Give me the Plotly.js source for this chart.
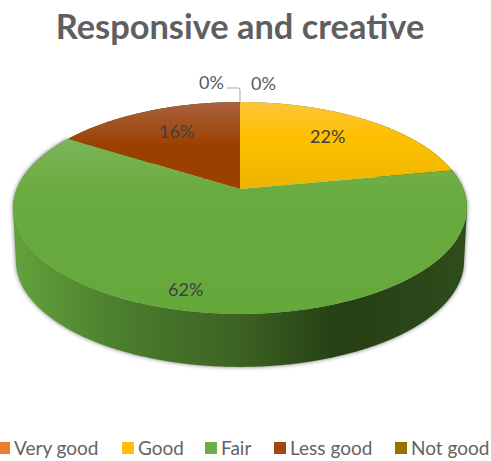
<!DOCTYPE html>
<html><head><meta charset="utf-8">
<script src="https://cdn.plot.ly/plotly-3.0.1.min.js"></script>
<style>html,body{margin:0;padding:0;background:#fff;overflow:hidden}#chart{width:491px;height:461px}</style>
</head><body><div id="chart"></div>
<script>
var categories = ['Very good', 'Good', 'Fair', 'Less good', 'Not good'];
var shares = [0, 22, 62, 16, 0];
var sliceColors = ['#ED7D31', '#FFC000', '#70AD47', '#9E480E', '#997300'];
var sliceLabels = ['22%', '16%', '62%', '0%', '0%'];
var labelX = [327, 176, 185, 211, 263];
var labelY = [136, 131, 289, 82, 83];
var labelInk = ['#404040', '#404040', '#404040', '#595959', '#595959'];
var legendX = [-2, 122, 205, 274, 395];

var W = 491, H = 461;
var data = [
  {type:'pie', values:shares, labels:categories, sort:false, direction:'clockwise', rotation:0,
   textinfo:'none', showlegend:false, hoverinfo:'skip', domain:{x:[0,1],y:[0,1]},
   marker:{colors:sliceColors, line:{width:0}}},
  {type:'pie', values:shares, labels:categories, sort:false, direction:'clockwise', rotation:0,
   textinfo:'none', showlegend:true, domain:{x:[0,1],y:[0,1]},
   marker:{colors:sliceColors, line:{width:0}}}
];
var layout = {
  width:W, height:H, margin:{l:0,r:0,t:0,b:0,autoexpand:false}, paper_bgcolor:'#fff',
  font:{family:'Lato, Carlito, sans-serif'},
  title:{text:'Responsive and creative', x:240/W, xanchor:'center', y:1-27/H, yanchor:'middle',
         font:{family:'Lato, sans-serif', size:34.4, weight:700, color:'#5F5F5F'}},
  legend:{orientation:'h', x:0, xanchor:'left', y:1-434/H, yanchor:'top', traceorder:'normal',
          font:{family:'Lato, sans-serif', size:19, color:'#636363'}, bgcolor:'rgba(0,0,0,0)', itemclick:false},
  annotations: sliceLabels.map(function(t,i){return {text:t, xref:'paper', yref:'paper', x:labelX[i]/W, y:1-labelY[i]/H,
      xanchor:'center', yanchor:'middle', showarrow:false, font:{family:'Lato, sans-serif', size:18, color:labelInk[i]}};}),
  shapes:[{type:'path', xref:'paper', yref:'paper',
      path:'M '+(227/W)+' '+(1-88/H)+' L '+(239/W)+' '+(1-88/H)+' L '+(240/W)+' '+(1-89/H)+' L '+(240/W)+' '+(1-102/H),
      line:{color:'#A6A6A6', width:1}}]
};

// Camera of the tilted disc: unit-circle point -> screen
var CX = 240, AX = 223.3, K = -0.179, BY = 68.7, CY = 189, DEPTH = 53, BASEX = 0.987;
function project(u, v, bottom) {
  var d = 1 + K * v;
  return [CX + AX * u / d * (bottom ? BASEX : 1), (CY + BY * v) / d + (bottom ? DEPTH : 0)];
}
function grad(svg, id, stops, horiz) {
  var ns = 'http://www.w3.org/2000/svg', g = document.createElementNS(ns, 'linearGradient');
  g.setAttribute('id', id); g.setAttribute('x1', '0'); g.setAttribute('y1', '0');
  g.setAttribute('x2', horiz ? '1' : '0'); g.setAttribute('y2', horiz ? '0' : '1');
  stops.forEach(function(s){var e = document.createElementNS(ns, 'stop');
    e.setAttribute('offset', s[0]); e.setAttribute('stop-color', s[1]); g.appendChild(e);});
  svg.appendChild(g);
}
Plotly.newPlot('chart', data, layout, {displayModeBar:false}).then(function(gd){
  var svg = gd.querySelector('.main-svg');
  var defs = document.createElementNS('http://www.w3.org/2000/svg', 'defs'); svg.insertBefore(defs, svg.firstChild);
  grad(defs, 'topGood', [[0,'#FCC53A'],[0.4,'#FFC000'],[1,'#EDB500']]);
  grad(defs, 'topFair', [[0,'#7BB65A'],[0.3,'#6AAB40'],[1,'#65A83A']]);
  grad(defs, 'topLess', [[0,'#A96240'],[0.5,'#9C4000'],[1,'#9C4000']]);
  grad(defs, 'rim', [[0,'#62A23B'],[0.25,'#4A7C2D'],[0.5,'#3C6222'],[0.72,'#263F14'],[1,'#2E4C1C']], true);
  var fills = {'1':'url(#topGood)','2':'url(#topFair)','3':'url(#topLess)'};
  var traces = gd.querySelectorAll('.pielayer .trace');
  [0,1].forEach(function(ti){
    var c = gd.calcdata[ti][0], isRim = ti === 0;
    traces[ti].querySelectorAll('g.slice').forEach(function(sl, si){
      var p = sl.querySelector('path.surface'); if(!p) return;
      var len = p.getTotalLength(); if(!len) { p.setAttribute('d','M0,0'); return; }
      var m = p.getCTM(), pts = [];
      for(var s = 0; s <= len; s += 1){ pts.push(p.getPointAtLength(s)); }
      pts.push(p.getPointAtLength(len));
      var uv = pts.map(function(q){ var X = m.a*q.x+m.c*q.y+m.e, Y = m.b*q.x+m.d*q.y+m.f;
        return [(X-c.cx)/c.r, (Y-c.cy)/c.r]; });
      p.removeAttribute('transform');
      var inv = p.getCTM().inverse();
      function loc(o){ return (inv.a*o[0]+inv.c*o[1]+inv.e).toFixed(2)+','+(inv.b*o[0]+inv.d*o[1]+inv.f).toFixed(2); }
      var d = '';
      if(isRim){
        var arc = uv.filter(function(a){ return Math.abs(Math.hypot(a[0],a[1])-1) < 0.01; });
        // band swept between the top rim and the bottom rim; overlapping strips so no seams show
        for(var i = 0; i + 2 < arc.length; i += 1){
          var a = arc[i], b = arc[i+2];
          var t0 = project(a[0],a[1],false), t1 = project(b[0],b[1],false), b1 = project(b[0],b[1],true), b0 = project(a[0],a[1],true);
          var cross = (t1[0]-t0[0])*(b0[1]-t0[1]) - (t1[1]-t0[1])*(b0[0]-t0[0]);
          var q = cross > 0 ? [t0,t1,b1,b0] : [t0,b0,b1,t1];
          d += 'M' + q.map(loc).join('L') + 'Z';
        }
        p.style.fill = 'url(#rim)';
        if(si === 2) p.style.filter = 'drop-shadow(0 0 2px rgba(0,0,0,0.55))';
      } else {
        d = 'M' + uv.map(function(a){return loc(project(a[0],a[1],false));}).join('L') + 'Z';
        if(fills[si]) p.style.fill = fills[si];
      }
      p.setAttribute('d', d || 'M0,0');
    });
  });
  // Legend row: one line, entries spaced as in the reference
  var sb = gd.querySelector('.legend .scrollbox');
  if(sb) sb.removeAttribute('clip-path');
  var leg = gd.querySelector('.legend'); if(leg) leg.removeAttribute('clip-path');
  gd.querySelectorAll('.legend .traces').forEach(function(it, i){
    var pm = it.parentNode.getCTM();
    it.setAttribute('transform', 'translate(' + (legendX[i]-pm.e) + ',' + (448-pm.f) + ')');
    var sw = it.querySelector('.legendpoints path');
    if(sw){ sw.setAttribute('transform','translate(6,0)'); sw.setAttribute('d','M-6,-6h12v12h-12z'); }
    var tx = it.querySelector('text.legendtext');
    if(tx){ tx.setAttribute('x', 16); }
  });
});
</script></body></html>
